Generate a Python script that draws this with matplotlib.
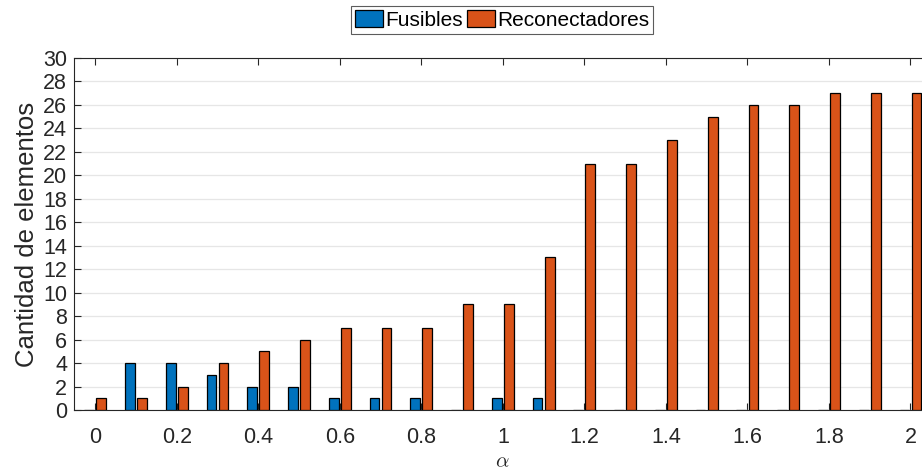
import numpy as np
import matplotlib
matplotlib.use("Agg")
import matplotlib.pyplot as plt

plt.rcParams['font.family'] = ['Liberation Sans', 'DejaVu Sans']
plt.rcParams['mathtext.fontset'] = 'cm'

alpha = [0.0, 0.1, 0.2, 0.3, 0.4, 0.5, 0.6, 0.7, 0.8, 0.9, 1.0,
         1.1, 1.2, 1.3, 1.4, 1.5, 1.6, 1.7, 1.8, 1.9, 2.0]
fusibles = [0, 4, 4, 3, 2, 2, 1, 1, 1, 0, 1, 1, 0, 0, 0, 0, 0, 0, 0, 0, 0]
reconectadores = [1, 1, 2, 4, 5, 6, 7, 7, 7, 9, 9, 13, 21, 21, 23, 25, 26, 26, 27, 27, 27]
yticks = list(range(0, 31, 2))
xticks = [0, 0.2, 0.4, 0.6, 0.8, 1.0, 1.2, 1.4, 1.6, 1.8, 2.0]
xtick_labels = ['0', '0.2', '0.4', '0.6', '0.8', '1', '1.2', '1.4', '1.6', '1.8', '2']

blue = '#0072BD'
orange = '#D95319'
txt = '#262626'

fig = plt.figure(figsize=(9.22, 4.74), dpi=100)
ax = fig.add_axes([74 / 922, 1 - 410 / 474, 856 / 922, (410 - 58) / 474])

x = np.array(alpha)
w = 0.024
off = 0.0148
b1 = ax.bar(x - off, fusibles, width=w, color=blue, edgecolor='black', linewidth=0.9,
            label='Fusibles', zorder=3)
b2 = ax.bar(x + off, reconectadores, width=w, color=orange, edgecolor='black', linewidth=0.9,
            label='Reconectadores', zorder=3)

ax.set_xlim(-0.052, 2.048)
ax.set_ylim(0, 30)
ax.set_yticks(yticks)
ax.set_xticks(xticks)
ax.set_xticklabels(xtick_labels)
ax.grid(axis='y', color='#e6e6e6', linewidth=0.9, zorder=0)
ax.set_axisbelow(True)

for s in ax.spines.values():
    s.set_color(txt)
    s.set_linewidth(0.8)
ax.tick_params(axis='both', direction='in', length=5, width=0.8, color=txt,
               labelcolor=txt, labelsize=15.5, top=True, right=True)
ax.tick_params(axis='x', pad=12)
ax.tick_params(axis='y', pad=5)

ax.set_ylabel('Cantidad de elementos', fontsize=18.5, color=txt, labelpad=3)
ax.set_xlabel(r'$\alpha$', fontsize=15, color=txt, labelpad=3)

leg = fig.legend(handles=[b1, b2], loc='upper center', bbox_to_anchor=(502 / 922, 1 - 6 / 474),
                 ncol=2, fontsize=15, frameon=True, fancybox=False, edgecolor='#333333',
                 handlelength=1.35, handleheight=0.87, handletextpad=0.1, columnspacing=0.2,
                 borderpad=0.2, borderaxespad=0)
leg.get_frame().set_linewidth(0.8)
for t in leg.get_texts():
    t.set_color('black')

fig.savefig('out.png', dpi=100)
